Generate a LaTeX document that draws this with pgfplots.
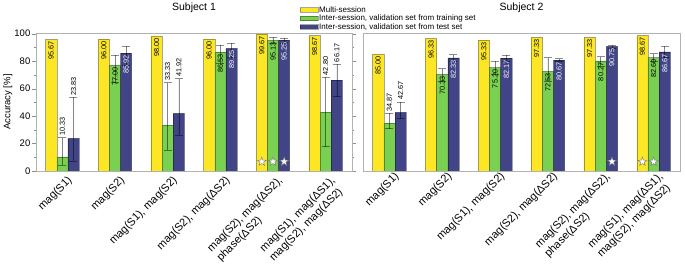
\documentclass[border=0pt]{standalone}
\usepackage{pgfplots}
\usepackage{pgfplotstable}
\pgfplotsset{compat=1.18}
\usepackage{fontspec}
\setmainfont{Liberation Sans}
\definecolor{cyel}{HTML}{FDE725}
\definecolor{cgrn}{HTML}{7AD151}
\definecolor{cblu}{HTML}{414487}
\pgfdeclareplotmark{fstar}{%
  \pgfpathmoveto{\pgfpointpolar{90}{\pgfplotmarksize}}%
  \pgfpathlineto{\pgfpointpolar{126}{0.4\pgfplotmarksize}}%
  \pgfpathlineto{\pgfpointpolar{162}{\pgfplotmarksize}}%
  \pgfpathlineto{\pgfpointpolar{198}{0.4\pgfplotmarksize}}%
  \pgfpathlineto{\pgfpointpolar{234}{\pgfplotmarksize}}%
  \pgfpathlineto{\pgfpointpolar{270}{0.4\pgfplotmarksize}}%
  \pgfpathlineto{\pgfpointpolar{306}{\pgfplotmarksize}}%
  \pgfpathlineto{\pgfpointpolar{342}{0.4\pgfplotmarksize}}%
  \pgfpathlineto{\pgfpointpolar{18}{\pgfplotmarksize}}%
  \pgfpathlineto{\pgfpointpolar{54}{0.4\pgfplotmarksize}}%
  \pgfpathclose
  \pgfusepathqfillstroke}
\pgfplotsset{
  mylegend/.style={legend image code/.code={\draw[##1] (0pt,-2.3pt) rectangle (18pt,2.3pt);}},
  plainbar/.style={ybar, bar width=0.212, bar shift=0pt, draw=black, draw opacity=0.35, line width=0.5pt},
  mybar/.style={plainbar,
    error bars/y dir=both, error bars/y explicit,
    error bars/error bar style={black, opacity=0.45, line width=0.6pt},
    error bars/error mark options={rotate=90, mark size=4pt, black, opacity=0.45, line width=0.6pt}},
  lbl/.style={draw=none, mark=none, forget plot, point meta=explicit symbolic, nodes near coords,
    every node near coord/.style={rotate=90, font=\fontsize{7.3}{8}\selectfont, inner sep=1.8pt, #1}},
  stars/.style={only marks, mark=fstar, mark size=4.6pt, fill=white, draw=black!55, line width=0.4pt, forget plot},
  common/.style={scale only axis, height=138pt, xmin=-0.5, xmax=5.5, ymin=0, ymax=100.5,
    xtick={0,...,5}, xtick style={draw=none},
    axis line style={black!30},
    title style={yshift=11pt, font=\fontsize{10.5}{12}\selectfont},
    xticklabel style={rotate=45, anchor=north east, align=left, font=\fontsize{11}{13.5}\selectfont, inner sep=1pt, yshift=-2pt, xshift=4pt},
    xticklabels={{mag(S1)},{mag(S2)},{mag(S1), mag(S2)},{mag(S2), mag(ΔS2)},{mag(S2), mag(ΔS2),\\phase(ΔS2)},{mag(S1), mag(ΔS1),\\mag(S2), mag(ΔS2)}},
  }
}
\pgfplotstableread{
x y
0 95.67
1 96.00
2 98.00
3 96.00
4 99.67
5 98.67
}\SoneY
\pgfplotstableread{
x y ep em
0 10.33 14.0 6.2
1 77.00 7.5 12.6
2 33.33 31.1 18.0
3 86.53 5.3 8.3
4 95.13 2.5 2.0
5 42.80 25.6 25.1
}\SoneG
\pgfplotstableread{
x y ep em
0 23.83 29.9 16.5
1 85.92 5.1 8.7
2 41.92 25.4 15.7
3 89.25 3.75 6.65
4 95.25 1.75 2.25
5 66.17 11.7 12.0
}\SoneB
\pgfplotstableread{
x y
0 85.00
1 96.33
2 95.33
3 97.33
4 97.33
5 98.67
}\StwoY
\pgfplotstableread{
x y ep em
0 34.87 7.1 4.0
1 70.33 4.3 4.7
2 75.20 4.9 4.8
3 72.53 10.1 6.9
4 80.27 3.0 3.8
5 82.60 2.9 2.9
}\StwoG
\pgfplotstableread{
x y ep em
0 42.67 7.6 4.5
1 82.33 2.4 2.2
2 82.17 2.1 2.1
3 80.67 1.1 0.7
4 90.75 1.0 1.35
5 86.67 4.3 4.1
}\StwoB
\begin{document}
\begin{tikzpicture}
\path[use as bounding box] (0,0) rectangle (685pt,264pt);
\begin{axis}[common, at={(36pt,93pt)}, anchor=south west, width=316pt,
  title={Subject 1},
  ylabel={Accuracy [\%]}, ylabel style={font=\fontsize{9.5}{10}\selectfont, yshift=-3pt},
  ytick={0,20,...,100}, minor ytick={10,30,...,90},
  tick align=outside, major tick length=4pt, minor tick length=2.5pt,
  ytick style={black!45},
  yticklabel style={font=\fontsize{9.5}{10}\selectfont, inner sep=1.5pt},
  /pgf/number format/assume math mode=true,
  legend style={at={(0.835,1.2)}, anchor=north west, draw=none, fill=none,
    font=\fontsize{8}{8.5}\selectfont, row sep=0pt, inner sep=0pt,
    nodes={inner sep=0.6pt, text height=6.2pt, text depth=1.1pt}},
  legend cell align=left,
]
\addplot[plainbar, fill=cyel, mylegend] table[x expr=\thisrow{x}-0.212, y=y]{\SoneY};
\addlegendentry{Multi-session}
\addplot[mybar, fill=cgrn, mylegend] table[x=x,y=y,y error plus=ep,y error minus=em]{\SoneG};
\addlegendentry{Inter-session, validation set from training set}
\addplot[mybar, fill=cblu, mylegend] table[x expr=\thisrow{x}+0.212,y=y,y error plus=ep,y error minus=em]{\SoneB};
\addlegendentry{Inter-session, validation set from test set}
% inside labels
\addplot[lbl={anchor=east, text=black}] coordinates {(-0.212,95.67)[95.67] (0.788,96.00)[96.00] (1.788,98.00)[98.00] (2.788,96.00)[96.00] (3.788,99.67)[99.67] (4.788,98.67)[98.67]};
\addplot[lbl={anchor=east, text=black}] coordinates {(1,77.00)[77.00] (3,86.53)[86.53] (4,95.13)[95.13]};
\addplot[lbl={anchor=east, text=white}] coordinates {(1.212,85.92)[85.92] (3.212,89.25)[89.25] (4.212,95.25)[95.25]};
% outside labels
\addplot[lbl={anchor=west, text=black}] coordinates {(0,24.3)[10.33] (0.212,53.7)[23.83] (2,64.4)[33.33] (2.212,67.3)[41.92] (5,68.4)[42.80] (5.212,77.9)[66.17]};
\addplot[stars] coordinates {(3.788,6.8) (4,6.8) (4.212,6.8)};
\end{axis}
\begin{axis}[common, at={(363pt,93pt)}, anchor=south west, width=317pt,
  title={Subject 2}, ytick=\empty,
]
\addplot[plainbar, fill=cyel] table[x expr=\thisrow{x}-0.212, y=y]{\StwoY};
\addplot[mybar, fill=cgrn] table[x=x,y=y,y error plus=ep,y error minus=em]{\StwoG};
\addplot[mybar, fill=cblu] table[x expr=\thisrow{x}+0.212,y=y,y error plus=ep,y error minus=em]{\StwoB};
\addplot[lbl={anchor=east, text=black}] coordinates {(-0.212,85.00)[85.00] (0.788,96.33)[96.33] (1.788,95.33)[95.33] (2.788,97.33)[97.33] (3.788,97.33)[97.33] (4.788,98.67)[98.67]};
\addplot[lbl={anchor=east, text=black}] coordinates {(1,70.33)[70.33] (2,75.20)[75.20] (3,72.53)[72.53] (4,80.27)[80.27] (5,82.60)[82.60]};
\addplot[lbl={anchor=east, text=white}] coordinates {(1.212,82.33)[82.33] (2.212,82.17)[82.17] (3.212,80.67)[80.67] (4.212,90.75)[90.75] (5.212,86.67)[86.67]};
\addplot[lbl={anchor=west, text=black}] coordinates {(0,42.0)[34.87] (0.212,50.3)[42.67]};
\addplot[stars] coordinates {(4.212,6.8) (4.788,6.8) (5,6.8)};
\end{axis}
\end{tikzpicture}
\end{document}
